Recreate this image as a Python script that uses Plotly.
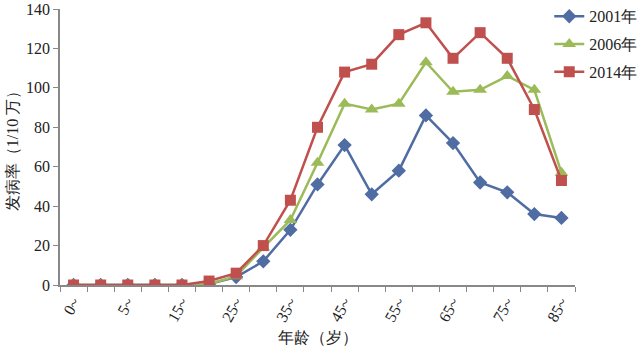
import plotly.graph_objects as go

categories = ["0~", "1~", "5~", "10~", "15~", "20~", "25~", "30~", "35~", "40~",
              "45~", "50~", "55~", "60~", "65~", "70~", "75~", "80~", "85~"]
v2001 = [0, 0, 0, 0, 0, 0.5, 4, 12, 28, 51, 71, 46, 58, 86, 72, 52, 47, 36, 34]
v2006 = [0, 0, 0, 0, 0, 0.5, 4.5, 19, 33, 62, 92, 89, 92, 113, 98, 99, 106, 99, 57]
v2014 = [0, 0, 0, 0, 0, 2, 6, 20, 43, 80, 108, 112, 127, 133, 115, 128, 115, 89, 53]
series_names = ["2001年", "2006年", "2014年"]
y_ticks = [0, 20, 40, 60, 80, 100, 120, 140]

xs = list(range(len(categories)))
label_idx = xs[::2]
label_txt = [categories[i] for i in label_idx]

serif = "Liberation Serif"

fig = go.Figure()
styles = [
    ("#4F6CA3", "diamond", 11),
    ("#9BBB59", "triangle-up", 12),
    ("#C0504D", "square", 11),
]
for name, vals, (col, sym, sz) in zip(series_names, [v2001, v2006, v2014], styles):
    fig.add_trace(go.Scatter(
        x=xs, y=vals, name=name, mode="lines+markers", legendgroup=name,
        line=dict(color=col, width=2.5),
        marker=dict(symbol=sym, size=sz, color=col),
    ))

fig.update_layout(
    width=640, height=353,
    margin=dict(l=60, r=65, t=9, b=68, autoexpand=False),
    paper_bgcolor="white", plot_bgcolor="white",
    font=dict(family=serif, size=16, color="#222"),
    showlegend=True,
    legend=dict(x=0.95, y=1.035, xanchor="left", yanchor="top",
                bgcolor="rgba(0,0,0,0)", font=dict(family=serif, size=16),
                traceorder="grouped", tracegroupgap=4, itemwidth=30),
)
fig.update_xaxes(
    range=[-0.5, len(categories) - 0.5],
    tickmode="array", tickvals=label_idx, ticktext=label_txt,
    tickangle=-60, ticks="", showgrid=False, zeroline=False,
    showline=True, linecolor="#888", linewidth=1.5,
    tickfont=dict(family=serif, size=16),
    minor=dict(tickmode="array", tickvals=[i - 0.5 for i in range(len(categories) + 1)],
               ticks="outside", ticklen=5, tickcolor="#888", showgrid=False),
    title=dict(text="年龄（岁）", font=dict(family=serif, size=16), standoff=8),
)
fig.update_yaxes(
    range=[0, 140], tickmode="array", tickvals=y_ticks,
    ticks="outside", ticklen=5, tickcolor="#888",
    showgrid=False, zeroline=False, ticklabeloverflow="allow",
    showline=True, linecolor="#888", linewidth=1.5,
    tickfont=dict(family=serif, size=16),
    title=dict(text="发病率（1/10 万）", font=dict(family=serif, size=16), standoff=3),
)

fig.write_html("out.html")
